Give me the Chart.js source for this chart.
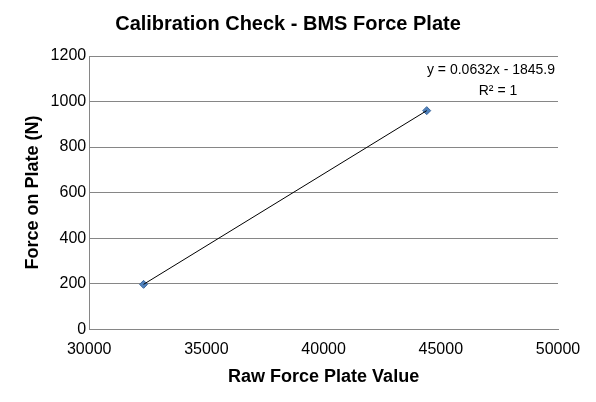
<!DOCTYPE html>
<html>
<head>
<meta charset="utf-8">
<script src="https://cdn.jsdelivr.net/npm/chart.js@4"></script>
<style>
  html, body { margin: 0; padding: 0; background: #fff; }
  #wrap { width: 596px; height: 402px; }
</style>
</head>
<body>
<div id="wrap"><canvas id="chart"></canvas></div>
<script>
// values
const rawValues = [32320, 44400];
const forceValues = [197, 960];
const trendX = [32320, 44400];
const trendY = [197, 960];
const equationLines = ['y = 0.0632x - 1845.9', 'R² = 1'];

const equationLabel = {
    id: 'equationLabel',
    afterDraw(chart) {
        const ctx = chart.ctx;
        const area = chart.chartArea;
        ctx.save();
        ctx.fillStyle = '#000';
        ctx.font = '14px "Liberation Sans", Arial, sans-serif';
        ctx.textAlign = 'center';
        ctx.fillText(equationLines[0], area.right - 67, area.top + 18);
        ctx.fillText(equationLines[1], area.right - 60, area.top + 39);
        ctx.restore();
    }
};

new Chart(document.getElementById('chart'), {
    type: 'scatter',
    data: {
        datasets: [
            {
                label: 'Trend',
                data: trendX.map((x, i) => ({ x: x, y: trendY[i] })),
                showLine: true,
                borderColor: '#000',
                borderWidth: 1,
                pointRadius: 0
            },
            {
                label: 'Force',
                data: rawValues.map((x, i) => ({ x: x, y: forceValues[i] })),
                pointStyle: 'rectRot',
                pointRadius: 4,
                backgroundColor: '#4F81BD',
                borderColor: '#3A6699',
                borderWidth: 1
            }
        ]
    },
    options: {
        responsive: true,
        maintainAspectRatio: false,
        animation: false,
        layout: { padding: { top: 8, right: 38, left: 18, bottom: 10 } },
        plugins: {
            legend: { display: false },
            tooltip: { enabled: false },
            title: {
                display: true,
                text: 'Calibration Check - BMS Force Plate',
                color: '#000',
                font: { size: 20, weight: 'bold', family: "'Liberation Sans', Arial, sans-serif" },
                padding: { top: 4, bottom: 20 }
            }
        },
        scales: {
            x: {
                type: 'linear',
                min: 30000,
                max: 50000,
                ticks: {
                    stepSize: 5000,
                    color: '#000',
                    callback: v => String(v),
                    font: { size: 16, family: "'Liberation Sans', Arial, sans-serif" }
                },
                grid: { display: false, drawTicks: true },
                border: { color: '#868686' },
                title: {
                    display: true,
                    text: 'Raw Force Plate Value',
                    color: '#000',
                    font: { size: 18, weight: 'bold', family: "'Liberation Sans', Arial, sans-serif" }
                }
            },
            y: {
                min: 0,
                max: 1200,
                ticks: {
                    stepSize: 200,
                    color: '#000',
                    callback: v => String(v),
                    font: { size: 16, family: "'Liberation Sans', Arial, sans-serif" }
                },
                grid: { color: '#868686', drawTicks: false },
                border: { color: '#868686' },
                title: {
                    display: true,
                    text: 'Force on Plate (N)',
                    color: '#000',
                    font: { size: 18, weight: 'bold', family: "'Liberation Sans', Arial, sans-serif" }
                }
            }
        }
    },
    plugins: [equationLabel]
});
</script>
</body>
</html>
